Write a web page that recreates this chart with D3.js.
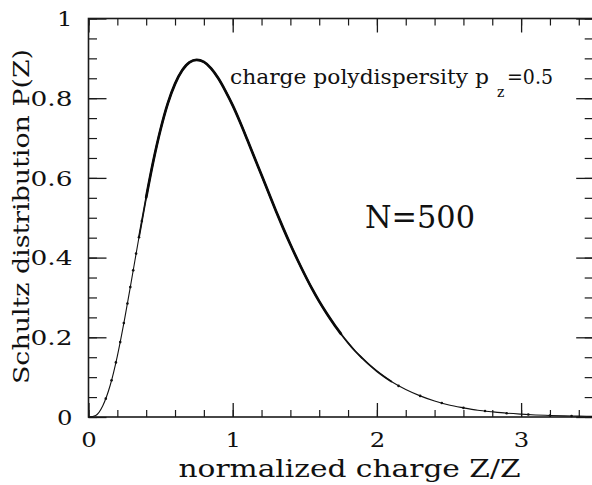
<!DOCTYPE html>
<html>
<head>
<meta charset="utf-8">
<script src="https://cdn.jsdelivr.net/npm/d3@7"></script>
<style>
  html, body { margin: 0; padding: 0; background: #fff; }
  svg { display: block; }
  text { font-family: "DejaVu Serif", "Liberation Serif", serif; fill: #111; }
</style>
</head>
<body>
<svg id="chart" width="592" height="485"></svg>
<script>
// Schultz distribution P(Z) versus normalized charge Z/Z, polydispersity 0.5
const zGrid = [0, 0.05, 0.1, 0.15, 0.2, 0.25, 0.3, 0.35, 0.4, 0.45, 0.5, 0.55, 0.6, 0.65,
  0.7, 0.75, 0.8, 0.85, 0.9, 0.95, 1.0, 1.05, 1.1, 1.15, 1.2, 1.25, 1.3, 1.35, 1.4, 1.45,
  1.5, 1.55, 1.6, 1.65, 1.7, 1.75, 1.8, 1.85, 1.9, 1.95, 2.0, 2.1, 2.2, 2.3, 2.4, 2.5,
  2.6, 2.7, 2.8, 2.9, 3.0, 3.1, 3.2, 3.3, 3.4, 3.5];
const pCurve = [0, 0.004, 0.029, 0.079, 0.153, 0.245, 0.347, 0.451, 0.551, 0.643, 0.722,
  0.787, 0.836, 0.870, 0.890, 0.896, 0.891, 0.875, 0.850, 0.818, 0.782, 0.741, 0.697,
  0.652, 0.607, 0.562, 0.517, 0.474, 0.433, 0.394, 0.357, 0.322, 0.290, 0.261, 0.234,
  0.209, 0.186, 0.165, 0.147, 0.130, 0.115, 0.089, 0.069, 0.053, 0.040, 0.030, 0.023,
  0.017, 0.013, 0.0095, 0.0071, 0.0052, 0.0039, 0.0028, 0.0021, 0.0015];

// sampled points (N=500) visible where the curve is sparse
const sampleZ = [0.12, 0.16, 0.19, 0.22, 0.245, 0.27, 0.29, 0.31, 0.33, 0.35, 0.37,
  2.15, 2.3, 2.45, 2.6, 2.75, 2.9, 3.05, 3.2, 3.35];
const sampleP = [0.046, 0.092, 0.137, 0.188, 0.236, 0.285, 0.326, 0.368, 0.410, 0.451, 0.492,
  0.078, 0.053, 0.035, 0.023, 0.015, 0.0095, 0.0061, 0.0039, 0.0024];

const xMajorTicks = [0, 1, 2, 3];
const xTickLabels = ["0", "1", "2", "3"];
const yMajorTicks = [0, 0.2, 0.4, 0.6, 0.8, 1];
const yTickLabels = ["0", "0.2", "0.4", "0.6", "0.8", "1"];
const xMinorTicks = d3.range(0, 18).map(i => i * 0.2);
const yMinorTicks = d3.range(0, 21).map(i => i * 0.05);

const svg = d3.select("#chart");
const plotLeft = 88.5, plotRight = 593.2, plotTop = 18.5, plotBottom = 417;

const x = d3.scaleLinear().domain([0, 3.5]).range([plotLeft, plotRight]);
const y = d3.scaleLinear().domain([0, 1]).range([plotBottom, plotTop]);

const axisColor = "#1a1a1a";

function styleAxis(g, w) {
  g.select(".domain").remove();
  g.selectAll(".tick line").attr("stroke", axisColor).attr("stroke-width", w);
}

// minor ticks on all four sides
svg.append("g").attr("transform", `translate(0,${plotBottom})`)
  .call(d3.axisBottom(x).tickValues(xMinorTicks).tickSize(-7).tickFormat(""))
  .call(g => styleAxis(g, 1.2));
svg.append("g").attr("transform", `translate(0,${plotTop})`)
  .call(d3.axisTop(x).tickValues(xMinorTicks).tickSize(-7).tickFormat(""))
  .call(g => styleAxis(g, 1.2));
svg.append("g").attr("transform", `translate(${plotLeft},0)`)
  .call(d3.axisLeft(y).tickValues(yMinorTicks).tickSize(-8.5).tickFormat(""))
  .call(g => styleAxis(g, 1.2));
svg.append("g").attr("transform", `translate(${plotRight},0)`)
  .call(d3.axisRight(y).tickValues(yMinorTicks).tickSize(-8.5).tickFormat(""))
  .call(g => styleAxis(g, 1.2));

// major ticks
const xAxis = svg.append("g").attr("transform", `translate(0,${plotBottom})`)
  .call(d3.axisBottom(x).tickValues(xMajorTicks).tickSize(-14).tickPadding(16)
    .tickFormat((d, i) => xTickLabels[i]))
  .call(g => styleAxis(g, 1.3));
svg.append("g").attr("transform", `translate(0,${plotTop})`)
  .call(d3.axisTop(x).tickValues(xMajorTicks).tickSize(-14).tickFormat(""))
  .call(g => styleAxis(g, 1.3));
const yAxis = svg.append("g").attr("transform", `translate(${plotLeft},0)`)
  .call(d3.axisLeft(y).tickValues(yMajorTicks).tickSize(-18).tickPadding(16)
    .tickFormat((d, i) => yTickLabels[i]))
  .call(g => styleAxis(g, 1.3));
svg.append("g").attr("transform", `translate(${plotRight},0)`)
  .call(d3.axisRight(y).tickValues(yMajorTicks).tickSize(-17).tickFormat(""))
  .call(g => styleAxis(g, 1.3));

xAxis.selectAll(".tick text")
  .attr("font-family", "DejaVu Serif").attr("font-size", 19.5).attr("fill", "#111")
  .attr("textLength", 15.5).attr("lengthAdjust", "spacingAndGlyphs");
yAxis.selectAll(".tick text")
  .attr("font-family", "DejaVu Serif").attr("font-size", 19.5).attr("fill", "#111")
  .attr("dy", "0.37em")
  .attr("textLength", d => d === 0 || d === 1 ? 15.5 : 42)
  .attr("lengthAdjust", "spacingAndGlyphs");

// frame
svg.append("rect")
  .attr("x", plotLeft).attr("y", plotTop)
  .attr("width", plotRight - plotLeft).attr("height", plotBottom - plotTop)
  .attr("fill", "none").attr("stroke", axisColor).attr("stroke-width", 1.6);

// curve
const pts = zGrid.map((z, i) => [z, pCurve[i]]);
const line = d3.line().x(d => x(d[0])).y(d => y(d[1])).curve(d3.curveMonotoneX);

const plot = svg.append("g");
plot.append("path").attr("d", line(pts))
  .attr("fill", "none").attr("stroke", "#111").attr("stroke-width", 1.1);
plot.append("path").attr("d", line(pts.filter(d => d[0] >= 0.33 && d[0] <= 2.1)))
  .attr("fill", "none").attr("stroke", "#111").attr("stroke-width", 1.8)
  .attr("stroke-linecap", "round");
plot.append("path").attr("d", line(pts.filter(d => d[0] >= 0.4 && d[0] <= 1.75)))
  .attr("fill", "none").attr("stroke", "#0a0a0a").attr("stroke-width", 2.7)
  .attr("stroke-linecap", "round");
plot.selectAll("circle.sample")
  .data(sampleZ.map((z, i) => [z, sampleP[i]]))
  .join("circle").attr("class", "sample")
  .attr("cx", d => x(d[0])).attr("cy", d => y(d[1])).attr("r", 1.3)
  .attr("fill", "#111");

// axis titles
svg.append("text")
  .attr("x", 349.5).attr("y", 476.7)
  .attr("text-anchor", "middle").attr("font-size", 24)
  .attr("textLength", 342).attr("lengthAdjust", "spacingAndGlyphs")
  .text("normalized charge Z/Z");

svg.append("text")
  .attr("transform", "translate(28.5,216.5) rotate(-90)")
  .attr("text-anchor", "middle").attr("font-size", 22.5)
  .attr("textLength", 335).attr("lengthAdjust", "spacingAndGlyphs")
  .text("Schultz distribution P(Z)");

// annotations
svg.append("text")
  .attr("x", 230).attr("y", 84).attr("font-size", 20.5)
  .attr("textLength", 259).attr("lengthAdjust", "spacingAndGlyphs")
  .text("charge polydispersity p");
svg.append("text")
  .attr("x", 497).attr("y", 96.5).attr("font-size", 14)
  .text("z");
svg.append("text")
  .attr("x", 507).attr("y", 83.5).attr("font-size", 19.5)
  .attr("textLength", 46).attr("lengthAdjust", "spacingAndGlyphs")
  .text("=0.5");

svg.append("text")
  .attr("x", 365).attr("y", 228.3).attr("font-size", 31.5)
  .attr("textLength", 110).attr("lengthAdjust", "spacingAndGlyphs")
  .text("N=500");
</script>
</body>
</html>
